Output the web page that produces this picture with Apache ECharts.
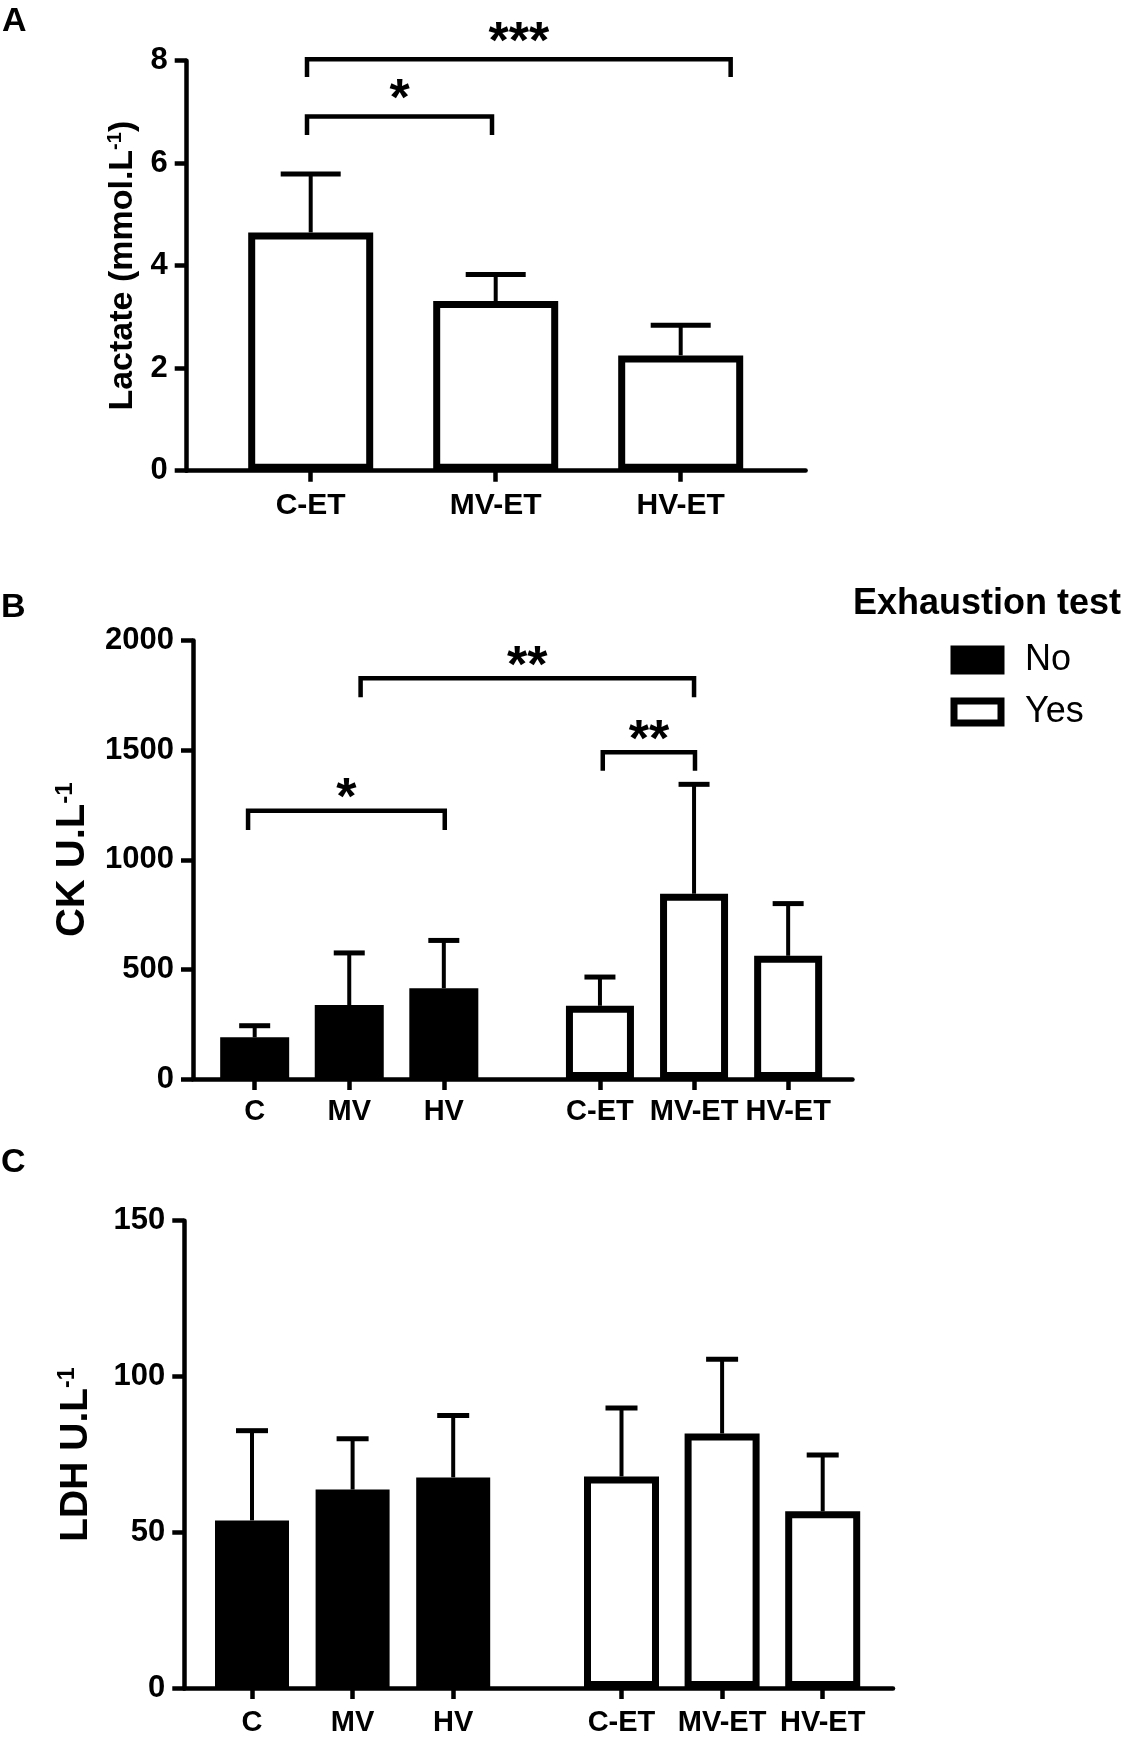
<!DOCTYPE html>
<html>
<head>
<meta charset="utf-8">
<title>Lactate, CK, LDH</title>
<script src="https://cdn.jsdelivr.net/npm/echarts@6/dist/echarts.min.js"></script>
<style>
  html, body { margin: 0; padding: 0; background: #fff; }
  #main { width: 1126px; height: 1737px; }
</style>
</head>
<body>
<div id="main"></div>
<script>
// ---- data ----
var lactCats = ['C-ET', 'MV-ET', 'HV-ET'];
var lactMean = [4.65, 3.31, 2.25];
var lactSd = [1.14, 0.52, 0.59];

var catsNo = ['C', 'MV', 'HV'];
var catsYes = ['C-ET', 'MV-ET', 'HV-ET'];

var ckNoMean = [190, 337, 414];
var ckNoSd = [53, 238, 218];
var ckYesMean = [334, 845, 562];
var ckYesSd = [131, 499, 238];

var ldhNoMean = [53.8, 63.7, 67.6];
var ldhNoSd = [28.8, 16.3, 19.9];
var ldhYesMean = [67.9, 81.7, 56.7];
var ldhYesSd = [22.0, 23.8, 18.1];

// significance brackets: [grid, category position] -> [grid, category position], level, leg end, stars
var lactSig = [
  { from: [1, -0.02], to: [1, 2.27], y: 8.03, end: 7.68, label: '***' },
  { from: [1, -0.02], to: [1, 0.98], y: 6.91, end: 6.55, label: '*' }
];
var ckSig = [
  { from: [3, 1.12], to: [4, 1], y: 1828, end: 1741, label: '**' },
  { from: [4, 0.03], to: [4, 1.01], y: 1490, end: 1406, label: '**' },
  { from: [3, -0.07], to: [3, 2.01], y: 1224, end: 1136, label: '*' }
];

var FONT = '"Liberation Sans", Arial, sans-serif';
var LW = 4.5;

function errData(mean, sd) {
  return mean.map(function (m, i) { return [i, m, sd[i]]; });
}

function errorBar(capWidth) {
  return function (params, api) {
    var i = api.value(0);
    var base = api.coord([i, api.value(1)]);
    var top = api.coord([i, api.value(1) + api.value(2)]);
    return {
      type: 'group',
      children: [
        { type: 'line', shape: { x1: base[0], y1: base[1], x2: top[0], y2: top[1] },
          style: { stroke: '#000', lineWidth: 4 } },
        { type: 'line', shape: { x1: top[0] - capWidth / 2, y1: top[1], x2: top[0] + capWidth / 2, y2: top[1] },
          style: { stroke: '#000', lineWidth: 5 } }
      ]
    };
  };
}

function plain(v) { return String(v); }

// axis helpers
function frameX(idx) {
  return {
    gridIndex: idx, type: 'value', min: 0, max: 1,
    axisLine: { show: true, onZero: false, lineStyle: { color: '#000', width: LW } },
    axisTick: { show: false }, axisLabel: { show: false }, splitLine: { show: false }
  };
}
function frameY(idx, max, interval, name, nameSize, nameGap) {
  return {
    gridIndex: idx, type: 'value', min: 0, max: max, interval: interval,
    name: name, nameLocation: 'middle', nameRotate: 90, nameGap: nameGap,
    nameTextStyle: {
      fontFamily: FONT, fontWeight: 'bold', fontSize: nameSize, color: '#000',
      rich: { sup: { fontFamily: FONT, fontWeight: 'bold', fontSize: Math.round(nameSize * 0.6), color: '#000', verticalAlign: 'top' } }
    },
    axisLine: { show: true, lineStyle: { color: '#000', width: LW } },
    axisTick: { show: true, length: 12, lineStyle: { color: '#000', width: LW } },
    axisLabel: { fontFamily: FONT, fontWeight: 'bold', fontSize: 31, color: '#000', margin: 19, formatter: plain },
    splitLine: { show: false }
  };
}
function catX(idx, cats, size, margin) {
  return {
    gridIndex: idx, type: 'category', data: cats,
    axisLine: { show: false },
    axisTick: { show: true, alignWithLabel: true, length: 11, lineStyle: { color: '#000', width: LW } },
    axisLabel: { fontFamily: FONT, fontWeight: 'bold', fontSize: size, color: '#000', margin: margin, interval: 0 },
    splitLine: { show: false }
  };
}
function hiddenY(idx, max) {
  return { gridIndex: idx, type: 'value', min: 0, max: max, show: false, splitLine: { show: false } };
}

var grids = [
  // A
  { left: 186.7, top: 60.7, width: 618.9, height: 410 },
  { left: 218.2, top: 60.7, width: 555, height: 410 },
  // B
  { left: 193, top: 640.5, width: 659.5, height: 438.5 },
  { left: 207.4, top: 640.5, width: 283.7, height: 438.5 },
  { left: 552.9, top: 640.5, width: 282.3, height: 438.5 },
  // C
  { left: 184.3, top: 1220.7, width: 708.7, height: 467.8 },
  { left: 201.7, top: 1220.7, width: 301.8, height: 467.8 },
  { left: 571.2, top: 1220.7, width: 301.8, height: 467.8 }
];

var option = {
  animation: false,
  backgroundColor: '#fff',
  grid: grids,
  xAxis: [
    frameX(0), catX(1, lactCats, 30, 20),
    frameX(2), catX(3, catsNo, 29, 18), catX(4, catsYes, 29, 18),
    frameX(5), catX(6, catsNo, 29, 20), catX(7, catsYes, 29, 20)
  ],
  yAxis: [
    frameY(0, 8, 2, 'Lactate (mmol.L{sup|-1})', 34, 45), hiddenY(1, 8),
    frameY(2, 2000, 500, 'CK U.L{sup|-1}', 40, 100), hiddenY(3, 2000), hiddenY(4, 2000),
    frameY(5, 150, 50, 'LDH U.L{sup|-1}', 39, 89), hiddenY(6, 150), hiddenY(7, 150)
  ],
  legend: {
    orient: 'vertical', left: 950.5, top: 642, padding: 0,
    itemWidth: 47, itemHeight: 22, itemGap: 16, icon: 'rect',
    selectedMode: false,
    data: ['No', 'Yes'],
    itemStyle: { borderWidth: 7, borderColor: '#000' },
    textStyle: { fontFamily: FONT, fontSize: 36, color: '#000', lineHeight: 22, padding: [0, 0, 0, 19] }
  },
  series: [
    { name: 'Lactate', type: 'bar', xAxisIndex: 1, yAxisIndex: 1, data: lactMean, barWidth: 125,
      itemStyle: { color: '#fff', borderColor: '#000', borderWidth: 7 } },
    { name: 'errA', type: 'custom', xAxisIndex: 1, yAxisIndex: 1, data: errData(lactMean, lactSd),
      renderItem: errorBar(60), z: 5 },

    { name: 'No', type: 'bar', xAxisIndex: 3, yAxisIndex: 3, data: ckNoMean, barWidth: 69,
      itemStyle: { color: '#000' } },
    { name: 'errBNo', type: 'custom', xAxisIndex: 3, yAxisIndex: 3, data: errData(ckNoMean, ckNoSd),
      renderItem: errorBar(31), z: 5 },
    { name: 'Yes', type: 'bar', xAxisIndex: 4, yAxisIndex: 4, data: ckYesMean, barWidth: 68,
      itemStyle: { color: '#fff', borderColor: '#000', borderWidth: 7 } },
    { name: 'errBYes', type: 'custom', xAxisIndex: 4, yAxisIndex: 4, data: errData(ckYesMean, ckYesSd),
      renderItem: errorBar(31), z: 5 },

    { name: 'No', type: 'bar', xAxisIndex: 6, yAxisIndex: 6, data: ldhNoMean, barWidth: 74,
      itemStyle: { color: '#000' } },
    { name: 'errCNo', type: 'custom', xAxisIndex: 6, yAxisIndex: 6, data: errData(ldhNoMean, ldhNoSd),
      renderItem: errorBar(32), z: 5 },
    { name: 'Yes', type: 'bar', xAxisIndex: 7, yAxisIndex: 7, data: ldhYesMean, barWidth: 75,
      itemStyle: { color: '#fff', borderColor: '#000', borderWidth: 7 } },
    { name: 'errCYes', type: 'custom', xAxisIndex: 7, yAxisIndex: 7, data: errData(ldhYesMean, ldhYesSd),
      renderItem: errorBar(32), z: 5 }
  ]
};

var chart = echarts.init(document.getElementById('main'), null, { renderer: 'canvas' });
chart.setOption(option);

// static labels
function label(text, x, y, size, weight) {
  return {
    type: 'text', x: x, y: y, z: 10,
    style: { text: text, fontFamily: FONT, fontSize: size, fontWeight: weight || 'bold',
      fill: '#000', verticalAlign: 'middle', align: 'left' }
  };
}
var graphics = [
  label('A', 2, 22, 34),
  label('B', 1, 608, 34),
  label('C', 1, 1163, 34),
  label('Exhaustion test', 853, 604, 36)
];

// x pixel for a (possibly fractional) category position, interpolated between category centres
function catPixel(gridIdx, pos, value) {
  var i = Math.max(0, Math.min(1, Math.floor(pos)));
  var a = chart.convertToPixel({ gridIndex: gridIdx }, [i, value]);
  var b = chart.convertToPixel({ gridIndex: gridIdx }, [i + 1, value]);
  var t = pos - i;
  return [a[0] + (b[0] - a[0]) * t, a[1]];
}

// brackets, placed through the axes
function addBrackets(list, starGap) {
  list.forEach(function (b) {
    var p1 = catPixel(b.from[0], b.from[1], b.y);
    var p2 = catPixel(b.to[0], b.to[1], b.y);
    var e1 = catPixel(b.from[0], b.from[1], b.end);
    graphics.push({
      type: 'polyline', z: 10,
      shape: { points: [[p1[0], e1[1]], [p1[0], p1[1]], [p2[0], p2[1]], [p2[0], e1[1]]] },
      style: { stroke: '#000', lineWidth: LW, fill: null, lineJoin: 'miter' }
    });
    graphics.push({
      type: 'text', z: 10, x: (p1[0] + p2[0]) / 2, y: p1[1] - starGap + 11,
      style: { text: b.label, fontFamily: FONT, fontSize: 52, fontWeight: 'bold', fill: '#000',
        align: 'center', verticalAlign: 'middle' }
    });
  });
}
addBrackets(lactSig, 27);
addBrackets(ckSig, 22);

chart.setOption({ graphic: graphics });
</script>
</body>
</html>
